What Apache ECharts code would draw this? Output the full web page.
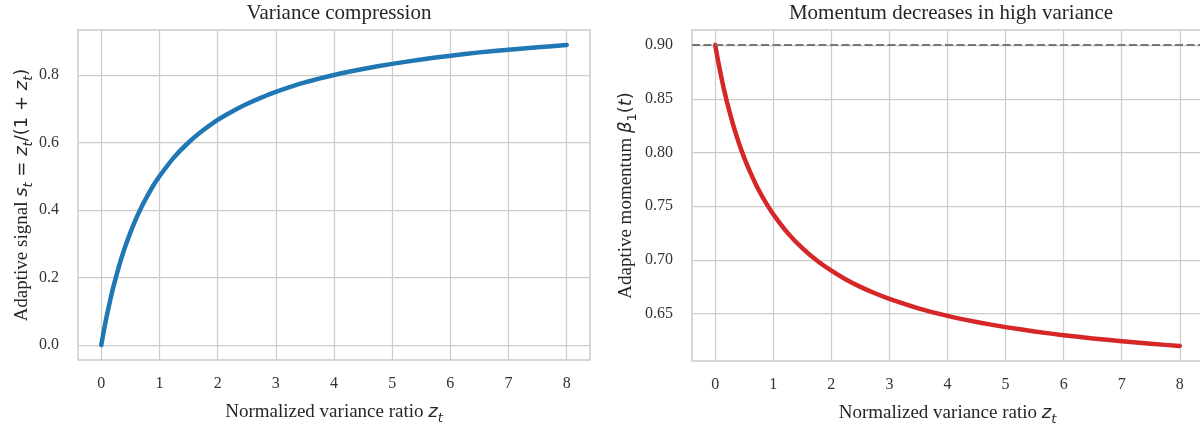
<!DOCTYPE html>
<html>
<head>
<meta charset="utf-8">
<script src="https://cdn.jsdelivr.net/npm/echarts@6/dist/echarts.min.js"></script>
<style>
html,body{margin:0;padding:0;background:#fff;}
#chart{width:1200px;height:425px;}
</style>
</head>
<body>
<div id="chart"></div>
<script>
// Values
const zValues = [0, 0.025, 0.05, 0.1, 0.15, 0.2, 0.3, 0.4, 0.5, 0.6, 0.7, 0.8, 0.9, 1.0,
  1.25, 1.5, 1.75, 2.0, 2.25, 2.5, 2.75, 3.0, 3.5, 4.0, 4.5, 5.0, 5.5, 6.0, 6.5, 7.0, 7.5, 8.0];
const signalValues = [0, 0.024, 0.048, 0.091, 0.130, 0.167, 0.231, 0.286, 0.333, 0.375, 0.412, 0.444, 0.474, 0.5,
  0.556, 0.6, 0.636, 0.667, 0.692, 0.714, 0.733, 0.75, 0.778, 0.8, 0.818, 0.833, 0.846, 0.857, 0.867, 0.875, 0.882, 0.889];
const momentumValues = [0.9, 0.8923, 0.8850, 0.8714, 0.8589, 0.8475, 0.8273, 0.81, 0.795, 0.7819, 0.7703, 0.76, 0.7508, 0.7425,
  0.725, 0.711, 0.6995, 0.69, 0.6819, 0.675, 0.669, 0.6638, 0.655, 0.648, 0.6423, 0.6375, 0.6335, 0.63, 0.627, 0.6244, 0.622, 0.62];
const baseMomentum = 0.9;
const xTicks = [0, 1, 2, 3, 4, 5, 6, 7, 8];
const leftYTicks = [0, 0.2, 0.4, 0.6, 0.8];
const rightYTicks = [0.65, 0.7, 0.75, 0.8, 0.85, 0.9];
const titles = ['Variance compression', 'Momentum decreases in high variance'];

const serif = '"Liberation Serif", "Times New Roman", serif';
const math = '"DejaVu Sans", sans-serif';
const textColor = '#262626';
const gridColor = '#cccccc';

const rich = {
  n: {fontFamily: serif, fontSize: 19, color: textColor, lineHeight: 26},
  mi: {fontFamily: math, fontStyle: 'italic', fontSize: 18, color: textColor, lineHeight: 26},
  mr: {fontFamily: math, fontSize: 18, color: textColor, lineHeight: 26},
  sub: {fontFamily: math, fontStyle: 'italic', fontSize: 13, color: textColor, lineHeight: 13, verticalAlign: 'bottom'},
  subr: {fontFamily: math, fontSize: 13, color: textColor, lineHeight: 13, verticalAlign: 'bottom'}
};

function xAxisCfg(idx) {
  return {
    type: 'value', gridIndex: idx, min: -0.4, max: 8.4,
    name: '{n|Normalized variance ratio }{mi|z}{sub|t}',
    nameLocation: 'middle', nameGap: 39,
    nameTextStyle: {rich: rich},
    axisLine: {show: false},
    axisTick: {show: false, customValues: xTicks},
    axisLabel: {customValues: xTicks, margin: 16, fontFamily: serif, fontSize: 16, color: '#333'},
    splitLine: {show: true, lineStyle: {color: gridColor, width: 1.25}}
  };
}

const option = {
  backgroundColor: '#fff',
  animation: false,
  title: [
    {text: titles[0], left: 334, top: -2, textAlign: 'center',
     textStyle: {fontFamily: serif, fontSize: 21, fontWeight: 'normal', color: textColor}},
    {text: titles[1], left: 946, top: -2, textAlign: 'center',
     textStyle: {fontFamily: serif, fontSize: 21, fontWeight: 'normal', color: textColor}}
  ],
  grid: [
    {left: 78, top: 30, right: 610, bottom: 65, outerBoundsMode: 'none', containLabel: false,
     show: true, borderColor: gridColor, borderWidth: 1.5, backgroundColor: 'transparent'},
    {left: 692, top: 30, right: -3, bottom: 64, outerBoundsMode: 'none', containLabel: false,
     show: true, borderColor: gridColor, borderWidth: 1.5, backgroundColor: 'transparent'}
  ],
  xAxis: [xAxisCfg(0), xAxisCfg(1)],
  yAxis: [
    {
      type: 'value', gridIndex: 0, min: -0.0444, max: 0.9333,
      name: '{n|Adaptive signal }{mi|s}{sub|t}{mr| = }{mi|z}{sub|t}{mr|/(1 + }{mi|z}{sub|t}{mr|)}',
      nameLocation: 'middle', nameGap: 43, nameRotate: 90,
      nameTextStyle: {rich: rich},
      axisLine: {show: false},
      axisTick: {show: false, customValues: leftYTicks},
      axisLabel: {customValues: leftYTicks, margin: 19, fontFamily: serif, fontSize: 16, color: '#333',
                  formatter: v => v.toFixed(1)},
      splitLine: {show: true, lineStyle: {color: gridColor, width: 1.25}}
    },
    {
      type: 'value', gridIndex: 1, min: 0.606, max: 0.914,
      name: '{n|Adaptive momentum }{mi|β}{subr|1}{mr|(}{mi|t}{mr|)}',
      nameLocation: 'middle', nameGap: 53, nameRotate: 90,
      nameTextStyle: {rich: rich},
      axisLine: {show: false},
      axisTick: {show: false, customValues: rightYTicks},
      axisLabel: {customValues: rightYTicks, margin: 19, fontFamily: serif, fontSize: 16, color: '#333',
                  formatter: v => v.toFixed(2)},
      splitLine: {show: true, lineStyle: {color: gridColor, width: 1.25}}
    }
  ],
  series: [
    {
      type: 'line', xAxisIndex: 0, yAxisIndex: 0,
      data: zValues.map((z, i) => [z, signalValues[i]]),
      smooth: 0.15, showSymbol: false,
      lineStyle: {color: '#1f77b4', width: 4.5, cap: 'round', join: 'round'}
    },
    {
      type: 'line', xAxisIndex: 1, yAxisIndex: 1,
      data: zValues.map((z, i) => [z, momentumValues[i]]),
      smooth: 0.15, showSymbol: false,
      lineStyle: {color: '#d62728', width: 4.5, cap: 'round', join: 'round'},
      z: 3,
      markLine: {
        silent: true, symbol: ['none', 'none'], label: {show: false},
        lineStyle: {type: [8, 3.5], color: '#777777', width: 1.8},
        data: [{yAxis: baseMomentum}]
      }
    }
  ]
};

const chart = echarts.init(document.getElementById('chart'), null, {renderer: 'canvas'});
chart.setOption(option);
</script>
</body>
</html>
